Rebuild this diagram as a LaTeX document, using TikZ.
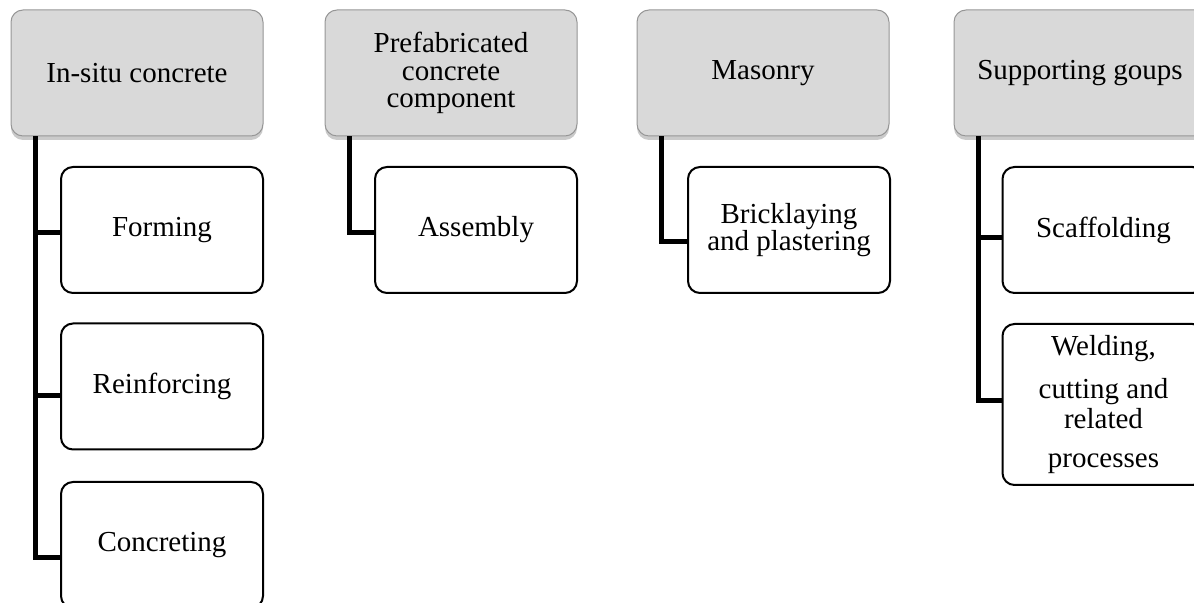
\documentclass[tikz,border=0pt]{standalone}
\usepackage{fontspec}
\setmainfont{Liberation Serif}
\usetikzlibrary{shadows}
\definecolor{headgray}{RGB}{217, 217, 217}
\definecolor{headline}{RGB}{150, 150, 150}

\begin{document}
\begin{tikzpicture}[x=0.5pt, y=-0.5pt,
    group/.style={draw=headline, line width=0.5pt, fill=headgray, rounded corners=6pt,
        minimum width=126pt, minimum height=63pt, inner sep=0pt, align=center,
        font=\fontsize{14.5}{13.8}\selectfont,
        drop shadow={shadow xshift=0pt, shadow yshift=-2pt, opacity=0.35, fill=black!60}},
    task/.style={draw=black, line width=1pt, fill=white, rounded corners=6pt,
        minimum width=101pt, minimum height=63pt, inner sep=0pt, align=center,
        font=\fontsize{14.5}{13.5}\selectfont},
    branch/.style={line width=2.5pt}]
    \clip (0,0) rectangle (1194,603);

    % group headers
    \node[group] (insitu) at (137,73) {In-situ concrete};
    \node[group] (prefab) at (451,73) {Prefabricated\\concrete\\component};
    \node[group] (masonry) at (763,73) {Masonry};
    \node[group] (support) at (1080,73) {Supporting goups};

    % tasks
    \node[task] (forming) at (162,230) {Forming};
    \node[task] (reinf) at (162,386.5) {Reinforcing};
    \node[task] (concr) at (162,545) {Concreting};
    \node[task] (assembly) at (476,230) {Assembly};
    \node[task] (brick) at (789,230) {Bricklaying\\and plastering};
    \node[task] (scaff) at (1103.5,230) {Scaffolding};
    \node[task, minimum height=80.5pt] (weld) at (1103.5,404.5)
        {Welding,\\[8pt]cutting and\\[1.5pt]related\\[6pt]processes};

    % connectors
    \draw[branch] ([xshift=12.5pt]insitu.south west) |- ([yshift=-1.5pt]forming.west);
    \draw[branch] ([xshift=12.5pt]insitu.south west) |- ([yshift=-4.5pt]reinf.west);
    \draw[branch] ([xshift=12.5pt]insitu.south west) |- ([yshift=-6.5pt]concr.west);
    \draw[branch] ([xshift=12.5pt]prefab.south west) |- ([yshift=-1.5pt]assembly.west);
    \draw[branch] ([xshift=12.5pt]masonry.south west) |- ([yshift=-6pt]brick.west);
    \draw[branch] ([xshift=12.5pt]support.south west) |- ([yshift=-4pt]scaff.west);
    \draw[branch] ([xshift=12.5pt]support.south west) |- ([yshift=2pt]weld.west);
\end{tikzpicture}
\end{document}
